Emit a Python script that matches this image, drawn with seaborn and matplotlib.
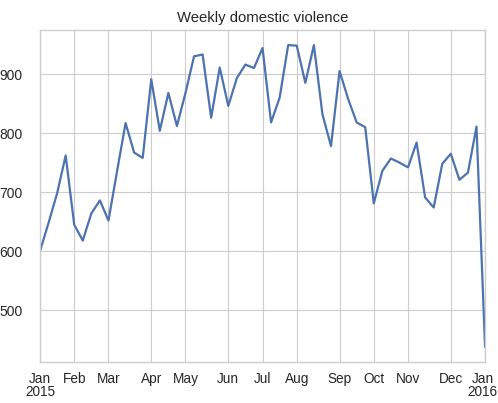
import numpy as np
import pandas as pd
import matplotlib
matplotlib.use("Agg")
import matplotlib.pyplot as plt
import matplotlib.transforms as mtransforms
import seaborn as sns

# weekly counts, weeks ending on Sunday
week_start = "2015-01-04"
counts = [
    600, 648, 698, 762, 645, 618, 664, 686, 652, 735,
    817, 767, 758, 891, 804, 868, 812, 868, 930, 933,
    826, 911, 846, 893, 916, 910, 944, 818, 860, 949,
    948, 885, 949, 832, 778, 905, 858, 818, 810, 681,
    736, 757, 750, 742, 784, 691, 674, 748, 765, 721,
    733, 811, 438,
]
title = "Weekly domestic violence"

weeks = pd.date_range(week_start, periods=len(counts), freq="W-SUN")
df = pd.DataFrame({"week": weeks, "count": counts})

sns.set_style("whitegrid", {
    "axes.edgecolor": ".8",
    "grid.color": ".8",
    "text.color": ".15",
    "xtick.color": ".15",
    "ytick.color": ".15",
})
plt.rcParams["font.family"] = ["Liberation Sans", "DejaVu Sans"]

fig = plt.figure(figsize=(4.98, 4.03), dpi=100)
ax = fig.add_axes([0.0803, 0.1017, 0.8937, 0.8239])
sns.lineplot(data=df, x="week", y="count", color="#4C72B0", linewidth=1.6, ax=ax)

# one tick at the first week of every month, like pandas' period axis
first = ~pd.Series(weeks.to_period("M")).duplicated().values
tick_dates = weeks[first]
labels = [d.strftime("%b") + ("\n%d" % d.year if d.month == 1 else "") for d in tick_dates]
ax.set_xticks(tick_dates)
ax.set_xticklabels(labels, fontsize=9.8)
ax.tick_params(axis="y", labelsize=10, pad=9)
ax.tick_params(axis="x", pad=3.5)
ax.set_xlim(weeks[0], weeks[-1])
ax.set_xlabel("")
ax.set_ylabel("")
ax.set_title(title, fontsize=10.7, pad=6)
for s in ax.spines.values():
    s.set_linewidth(1.0)

ticklabels = ax.get_xticklabels()
for lab in ticklabels:
    lab.set_linespacing(0.95)
# keep the last year label inside the canvas
shift = mtransforms.ScaledTranslation(-2.5 / 100, 0, fig.dpi_scale_trans)
ticklabels[-1].set_transform(ticklabels[-1].get_transform() + shift)

fig.savefig("out.png", dpi=100)
